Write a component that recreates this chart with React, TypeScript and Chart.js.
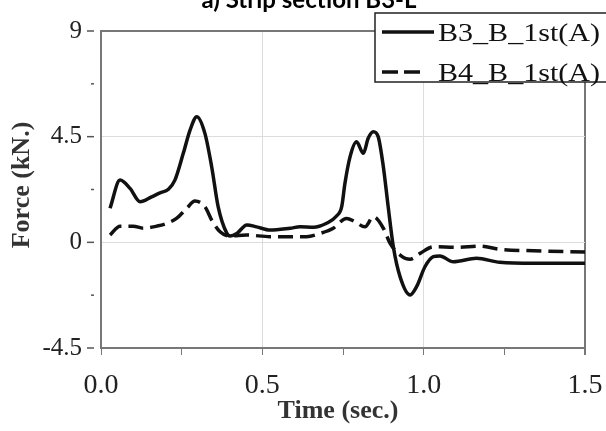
import React, { useEffect, useRef } from "react";
import { Chart, registerables } from "chart.js";

Chart.register(...registerables);

const TITLE = "a) Strip section B3-L";
const X_TITLE = "Time (sec.)";
const Y_TITLE = "Force (kN.)";
const SERIES_NAMES = ["B3_B_1st(A)", "B4_B_1st(A)"];
const X_MIN = 0;
const X_MAX = 1.5;
const X_MAJOR_STEP = 0.5;
const Y_MIN = -4.5;
const Y_MAX = 9;
const Y_MAJOR_STEP = 4.5;

const B3_T = [0.028, 0.059, 0.09, 0.121, 0.157, 0.183, 0.209, 0.229, 0.255, 0.276, 0.297, 0.322, 0.343, 0.363, 0.39, 0.4, 0.421, 0.452, 0.482, 0.524, 0.586, 0.617, 0.658, 0.699, 0.73, 0.746, 0.756, 0.772, 0.792, 0.813, 0.828, 0.844, 0.859, 0.875, 0.89, 0.906, 0.927, 0.958, 0.978, 1.004, 1.03, 1.05, 1.092, 1.164, 1.236, 1.34, 1.5];
const B3_F = [1.45, 2.65, 2.3, 1.73, 1.94, 2.11, 2.26, 2.65, 3.79, 4.78, 5.35, 4.64, 3.22, 1.52, 0.38, 0.27, 0.38, 0.74, 0.66, 0.52, 0.6, 0.66, 0.64, 0.81, 1.12, 1.52, 2.51, 3.65, 4.28, 3.79, 4.43, 4.71, 4.5, 3.22, 1.52, -0.19, -1.47, -2.24, -1.89, -1.04, -0.61, -0.58, -0.83, -0.68, -0.85, -0.89, -0.89];

const B4_T = [0.028, 0.059, 0.1, 0.131, 0.173, 0.198, 0.234, 0.266, 0.291, 0.322, 0.343, 0.369, 0.4, 0.452, 0.524, 0.586, 0.637, 0.679, 0.72, 0.761, 0.787, 0.818, 0.844, 0.875, 0.896, 0.927, 0.958, 0.989, 1.03, 1.102, 1.174, 1.236, 1.34, 1.5];
const B4_F = [0.31, 0.69, 0.69, 0.6, 0.69, 0.78, 1.02, 1.45, 1.76, 1.52, 0.95, 0.45, 0.27, 0.31, 0.24, 0.24, 0.24, 0.38, 0.6, 1.02, 0.88, 0.66, 1.09, 0.6, -0.04, -0.54, -0.72, -0.47, -0.19, -0.21, -0.16, -0.3, -0.36, -0.41];

const LINE_COLOR = "#111";
const AXIS_COLOR = "#777";
const GRID_COLOR = "#dcdcdc";
const DASH = [15, 7];

const isMultiple = (v: number, step: number) =>
  Math.abs(v / step - Math.round(v / step)) < 1e-6;

const overlayPlugin = {
  id: "overlay",
  afterDraw(chart: any) {
    const ctx = chart.ctx as CanvasRenderingContext2D;
    const ys = chart.scales.y;
    const area = chart.chartArea;
    ctx.save();

    // y-axis tick dashes (detached from the axis like the reference)
    ctx.strokeStyle = "#555";
    ctx.lineWidth = 1.5;
    for (let v = Y_MIN; v <= Y_MAX + 1e-9; v += Y_MAJOR_STEP / 2) {
      const py = ys.getPixelForValue(v);
      const major = isMultiple(v, Y_MAJOR_STEP);
      ctx.beginPath();
      ctx.moveTo(area.left - (major ? 14 : 10), py);
      ctx.lineTo(area.left - 7, py);
      ctx.stroke();
    }

    // axis titles
    ctx.fillStyle = "#333";
    ctx.font = 'bold 26px "Liberation Serif", serif';
    ctx.textAlign = "center";
    ctx.textBaseline = "middle";
    ctx.fillText(X_TITLE, 338, 411);
    ctx.save();
    ctx.translate(22, 185);
    ctx.rotate(-Math.PI / 2);
    ctx.fillText(Y_TITLE, 0, 0);
    ctx.restore();

    // chart title (cut at the top like the reference)
    ctx.fillStyle = "#000";
    ctx.font = "bold 24px Lato, sans-serif";
    ctx.textAlign = "center";
    ctx.textBaseline = "alphabetic";
    ctx.fillText(TITLE, 309, 8);

    // legend
    const bx = 375, by = 13, bw = 260, bh = 69;
    ctx.fillStyle = "#fff";
    ctx.fillRect(bx, by, bw, bh);
    ctx.strokeStyle = "#222";
    ctx.lineWidth = 1.5;
    ctx.strokeRect(bx, by, bw, bh);

    const rows = [
      { y: 32, dash: [] as number[], x2: 434 },
      { y: 72, dash: [16, 6], x2: 420 },
    ];
    ctx.font = '26px "Liberation Serif", serif';
    ctx.textAlign = "left";
    ctx.textBaseline = "middle";
    rows.forEach((r, i) => {
      ctx.strokeStyle = LINE_COLOR;
      ctx.lineWidth = 3.5;
      ctx.setLineDash(r.dash);
      ctx.beginPath();
      ctx.moveTo(382, r.y);
      ctx.lineTo(r.x2, r.y);
      ctx.stroke();
      ctx.setLineDash([]);
      const label = SERIES_NAMES[i];
      const w = ctx.measureText(label).width;
      const sx = 162 / w;
      ctx.save();
      ctx.translate(438, r.y + 2);
      ctx.scale(sx, 1);
      ctx.fillStyle = "#111";
      ctx.fillText(label, 0, 0);
      ctx.restore();
    });

    ctx.restore();
  },
};

export default function App() {
  const canvasRef = useRef<HTMLCanvasElement | null>(null);

  useEffect(() => {
    if (!canvasRef.current) return;
    const chart = new Chart(canvasRef.current, {
      type: "line",
      data: {
        datasets: [
          {
            label: SERIES_NAMES[0],
            data: B3_T.map((t, i) => ({ x: t, y: B3_F[i] })),
            borderColor: LINE_COLOR,
            borderWidth: 3.5,
            pointRadius: 0,
            cubicInterpolationMode: "monotone",
            fill: false,
          },
          {
            label: SERIES_NAMES[1],
            data: B4_T.map((t, i) => ({ x: t, y: B4_F[i] })),
            borderColor: LINE_COLOR,
            borderWidth: 3.5,
            borderDash: DASH,
            pointRadius: 0,
            cubicInterpolationMode: "monotone",
            fill: false,
          },
        ],
      },
      options: {
        animation: false,
        responsive: false,
        maintainAspectRatio: false,
        layout: { padding: { top: 31, right: 21, left: 0, bottom: 0 } },
        plugins: {
          legend: { display: false },
          title: { display: false },
          tooltip: { enabled: false },
        },
        scales: {
          x: {
            type: "linear",
            min: X_MIN,
            max: X_MAX,
            afterFit: (s: any) => {
              s.height = 83;
              s.paddingLeft = 0;
              s.paddingRight = 0;
            },
            border: { color: AXIS_COLOR, width: 2 },
            grid: {
              color: (c: any) => {
                const v = c.tick ? c.tick.value : 0;
                if (Math.abs(v - X_MAX) < 1e-6) return AXIS_COLOR;
                if (v > 0 && isMultiple(v, X_MAJOR_STEP)) return GRID_COLOR;
                return "rgba(0,0,0,0)";
              },
              lineWidth: (c: any) => {
                const v = c.tick ? c.tick.value : 0;
                return Math.abs(v - X_MAX) < 1e-6 ? 2 : 1;
              },
              tickColor: AXIS_COLOR,
              tickLength: 7,
              drawTicks: true,
            },
            ticks: {
              stepSize: X_MAJOR_STEP / 2,
              autoSkip: false,
              maxRotation: 0,
              padding: 14,
              color: "#222",
              font: { family: '"Liberation Serif", serif', size: 28 },
              callback: (v: any) =>
                isMultiple(Number(v), X_MAJOR_STEP) ? Number(v).toFixed(1) : "",
            },
          },
          y: {
            type: "linear",
            min: Y_MIN,
            max: Y_MAX,
            afterFit: (s: any) => {
              s.width = 101;
              s.paddingTop = 0;
              s.paddingBottom = 0;
            },
            border: { color: AXIS_COLOR, width: 2 },
            grid: {
              color: (c: any) => {
                const v = c.tick ? c.tick.value : 0;
                if (Math.abs(v - Y_MAX) < 1e-6) return AXIS_COLOR;
                if (v > Y_MIN && isMultiple(v, Y_MAJOR_STEP)) return GRID_COLOR;
                return "rgba(0,0,0,0)";
              },
              lineWidth: (c: any) => {
                const v = c.tick ? c.tick.value : 0;
                return Math.abs(v - Y_MAX) < 1e-6 ? 2 : 1;
              },
              drawTicks: false,
            },
            ticks: {
              stepSize: Y_MAJOR_STEP / 2,
              autoSkip: false,
              padding: 19,
              color: "#222",
              font: { family: '"Liberation Serif", serif', size: 25 },
              callback: (v: any) =>
                isMultiple(Number(v), Y_MAJOR_STEP) ? String(Number(v)) : "",
            },
          },
        },
      },
      plugins: [overlayPlugin],
    });
    return () => chart.destroy();
  }, []);

  return (
    <div
      style={{
        position: "absolute",
        left: 0,
        top: 0,
        width: 606,
        height: 431,
        background: "#fff",
      }}
    >
      <canvas
        ref={canvasRef}
        width={606}
        height={431}
        style={{ display: "block", width: 606, height: 431 }}
      />
    </div>
  );
}
